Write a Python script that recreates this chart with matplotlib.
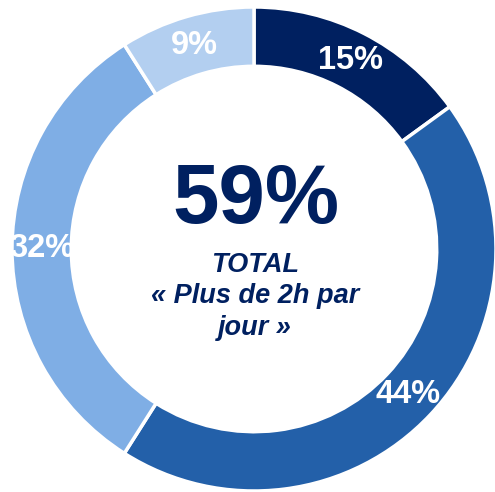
import matplotlib.pyplot as plt

# donut values (clockwise from top)
values = [15, 44, 32, 9]
colors = ['#002060', '#2360A9', '#7FAEE5', '#B3CFF0']
total_label = '59%'
sub_label = 'TOTAL\n« Plus de 2h par\njour »'

plt.rcParams['font.family'] = ['Liberation Sans', 'DejaVu Sans']

W, H = 495, 492
cx, cy, R = 254, 249, 242  # pixel centre / radius of the ring

fig = plt.figure(figsize=(W / 100, H / 100), dpi=100)
ax = fig.add_axes([0, 0, 1, 1])

wedges, texts, autotexts = ax.pie(
    values, colors=colors, startangle=90, counterclock=False, radius=1,
    autopct=lambda p: f'{p:.0f}%', pctdistance=0.876,
    wedgeprops=dict(width=0.245, edgecolor='white', linewidth=2.5))
for t in autotexts:
    t.set_color('white')
    t.set_fontsize(23.5)
    t.set_fontweight('bold')

ax.text(0.008, 0.200, total_label, ha='center', va='center',
        fontsize=60, fontweight='bold', color='#002060')
ax.text(0.005, -0.195, sub_label, ha='center', va='center',
        fontsize=19.5, fontweight='bold', fontstyle='italic',
        color='#002060', linespacing=1.27)

ax.set_aspect('equal')
ax.set_xlim(-cx / R, (W - cx) / R)
ax.set_ylim(-(H - cy) / R, cy / R)
ax.axis('off')

fig.savefig('out.png', dpi=100)
